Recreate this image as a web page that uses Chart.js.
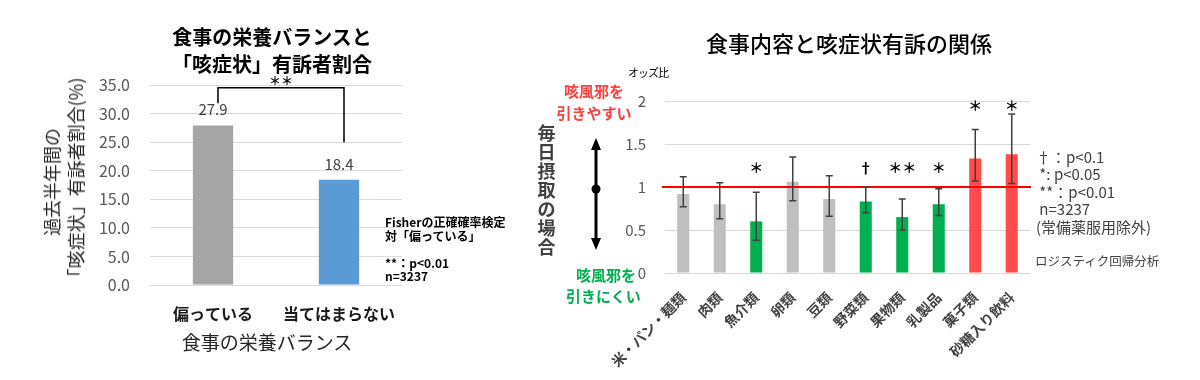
<!DOCTYPE html>
<html lang="ja">
<head>
<meta charset="utf-8">
<script src="https://cdn.jsdelivr.net/npm/chart.js@4"></script>
<style>
  body { margin: 0; background: #fff; font-family: "Noto Sans CJK JP", "Noto Sans", sans-serif; }
  #page { position: relative; width: 1200px; height: 380px; overflow: hidden; }
  .abs { position: absolute; white-space: nowrap; line-height: 1; }
  canvas { position: absolute; top: 0; }
</style>
</head>
<body>
<div id="page">
  <canvas id="balanceChart" width="420" height="380" style="left:0"></canvas>
  <canvas id="foodChart" width="680" height="380" style="left:520px"></canvas>

  <!-- 左グラフのテキスト -->
  <div class="abs" style="left:172px;top:23px;width:200px;text-align:center;font-size:20px;font-weight:bold;color:#000;line-height:27px">食事の栄養バランスと<br>「咳症状」有訴者割合</div>
  <div class="abs" style="left:63px;top:182px;transform:translate(-50%,-50%) rotate(-90deg);font-size:18px;color:#262626;text-align:center;line-height:24px">過去半年間の<br>「咳症状」有訴者割合(%)</div>
  <div class="abs" style="left:267px;top:332px;transform:translateX(-50%);font-size:19px;color:#262626">食事の栄養バランス</div>
  <div class="abs" style="left:385px;top:215px;font-size:12px;font-weight:bold;color:#000;line-height:13.5px">Fisherの正確確率検定<br>対「偏っている」<br><br>**：p&lt;0.01<br>n=3237</div>

  <!-- 右グラフのテキスト -->
  <div class="abs" style="left:849px;top:31px;transform:translateX(-50%);font-size:22px;font-weight:500;color:#000">食事内容と咳症状有訴の関係</div>
  <div class="abs" style="left:628px;top:67px;font-size:11px;color:#000;letter-spacing:-1px">オッズ比</div>
  <div class="abs" style="left:594px;top:80px;transform:translateX(-50%);font-size:15px;font-weight:bold;color:#ff4040;text-align:center;line-height:22px">咳風邪を<br>引きやすい</div>
  <div class="abs" style="left:566px;top:264px;width:70px;text-align:right;font-size:15px;font-weight:bold;color:#00b050;line-height:21px">咳風邪を<br>引きにくい</div>
  <div class="abs" style="left:537px;top:123px;width:19px;font-size:18px;font-weight:bold;color:#404040;line-height:19px;white-space:normal;text-align:center">毎日摂取の場合</div>
  <svg class="abs" style="left:580px;top:130px" width="32" height="130">
    <line x1="16" y1="16" x2="16" y2="112" stroke="#000" stroke-width="3"/>
    <polygon points="16,8 11,20 21,20" fill="#000"/>
    <polygon points="16,120 11,108 21,108" fill="#000"/>
    <circle cx="16" cy="59" r="4.5" fill="#000"/>
  </svg>
  <div class="abs" style="left:1036px;top:148px;font-size:15px;color:#404040;line-height:17.4px">†：p&lt;0.1<br>&nbsp;*: p&lt;0.05<br>&nbsp;**：p&lt;0.01<br>&nbsp;n=3237<br>(常備薬服用除外)</div>
  <div class="abs" style="left:1035px;top:255px;font-size:12.5px;color:#404040">ロジスティク回帰分析</div>
</div>

<script>
// 左：食事の栄養バランス別の有訴者割合
const balanceLabels = ['偏っている', '当てはまらない'];
const balanceRates = [27.9, 18.4];
const balanceColors = ['#a5a5a5', '#5b9bd5'];

// 右：食品群ごとのオッズ比と95%信頼区間
const foodLabels = ['米・パン・麺類', '肉類', '魚介類', '卵類', '豆類', '野菜類', '果物類', '乳製品', '菓子類', '砂糖入り飲料'];
const oddsRatios = [0.92, 0.80, 0.60, 1.06, 0.86, 0.83, 0.65, 0.80, 1.33, 1.38];
const ciLower = [0.77, 0.63, 0.38, 0.84, 0.66, 0.70, 0.50, 0.67, 1.07, 1.04];
const ciUpper = [1.12, 1.05, 0.94, 1.35, 1.13, 1.00, 0.86, 0.98, 1.67, 1.85];
const sigMarks = ['', '', '＊', '', '', '†', '＊＊', '＊', '＊', '＊'];

const jpFont = '"Noto Sans CJK JP", "Noto Sans", sans-serif';
Chart.defaults.font.family = jpFont;
Chart.defaults.animation = false;

// 棒の上の数値とブラケット
const balanceNotes = {
  id: 'balanceNotes',
  afterDatasetsDraw(chart) {
    const ctx = chart.ctx;
    const meta = chart.getDatasetMeta(0);
    const y = chart.scales.y;
    ctx.save();
    ctx.fillStyle = '#404040';
    ctx.font = '15px ' + jpFont;
    ctx.textAlign = 'center';
    ctx.textBaseline = 'middle';
    meta.data.forEach((bar, i) => {
      ctx.fillText(balanceRates[i].toFixed(1), bar.x, bar.y - 16);
    });
    // 有意差ブラケット
    const x1 = meta.data[0].x + 5, x2 = meta.data[1].x + 5;
    const top = y.getPixelForValue(34.5);
    ctx.strokeStyle = '#000';
    ctx.lineWidth = 1.5;
    ctx.beginPath();
    ctx.moveTo(x1, y.getPixelForValue(balanceRates[0] + 3.9));
    ctx.lineTo(x1, top);
    ctx.lineTo(x2, top);
    ctx.lineTo(x2, y.getPixelForValue(25));
    ctx.stroke();
    ctx.fillStyle = '#000';
    ctx.font = 'bold 12px ' + jpFont;
    ctx.fillText('＊＊', (x1 + x2) / 2, top - 6);
    ctx.restore();
  }
};

new Chart(document.getElementById('balanceChart'), {
  type: 'bar',
  data: {
    labels: balanceLabels,
    datasets: [{
      data: balanceRates,
      backgroundColor: balanceColors,
      barPercentage: 0.32,
      categoryPercentage: 1
    }]
  },
  options: {
    responsive: false,
    layout: { padding: { top: 85, right: 18, left: 0, bottom: 0 } },
    plugins: { legend: { display: false }, tooltip: { enabled: false } },
    scales: {
      x: {
        grid: { display: false },
        border: { display: false },
        ticks: { color: '#1a1a1a', font: { size: 16, weight: 'bold' }, padding: 11, maxRotation: 0 },
        afterFit(s) { s.height = 95; }
      },
      y: {
        min: 0, max: 35,
        grid: { color: '#d9d9d9', drawTicks: false },
        border: { display: false },
        ticks: { stepSize: 5, color: '#595959', font: { size: 16 }, padding: 20, callback: v => v.toFixed(1) },
        afterFit(s) { s.width = 150; }
      }
    }
  },
  plugins: [balanceNotes]
});

// 誤差範囲・基準線・有意記号
const oddsNotes = {
  id: 'oddsNotes',
  afterDatasetsDraw(chart) {
    const ctx = chart.ctx;
    const y = chart.scales.y;
    const area = chart.chartArea;
    const meta = chart.getDatasetMeta(0);
    ctx.save();
    // オッズ比=1の線
    ctx.strokeStyle = '#ff0000';
    ctx.lineWidth = 2;
    ctx.beginPath();
    ctx.moveTo(area.left - 3, y.getPixelForValue(1));
    ctx.lineTo(area.right + 1, y.getPixelForValue(1));
    ctx.stroke();
    // 信頼区間
    ctx.strokeStyle = '#404040';
    ctx.lineWidth = 1.5;
    meta.data.forEach((bar, i) => {
      const lo = y.getPixelForValue(ciLower[i]);
      const hi = y.getPixelForValue(ciUpper[i]);
      ctx.beginPath();
      ctx.moveTo(bar.x, lo); ctx.lineTo(bar.x, hi);
      ctx.moveTo(bar.x - 3.5, lo); ctx.lineTo(bar.x + 3.5, lo);
      ctx.moveTo(bar.x - 3.5, hi); ctx.lineTo(bar.x + 3.5, hi);
      ctx.stroke();
    });
    // 有意記号
    ctx.fillStyle = '#000';
    ctx.font = 'bold 14px ' + jpFont;
    ctx.textAlign = 'center';
    ctx.textBaseline = 'middle';
    meta.data.forEach((bar, i) => {
      if (!sigMarks[i]) return;
      const level = ciUpper[i] > 1.2 ? 1.94 : 1.22;
      ctx.fillText(sigMarks[i], bar.x, y.getPixelForValue(level));
    });
    ctx.restore();
  }
};

new Chart(document.getElementById('foodChart'), {
  type: 'bar',
  data: {
    labels: foodLabels,
    datasets: [{
      data: oddsRatios,
      backgroundColor: oddsRatios.map((v, i) => !sigMarks[i] ? '#bfbfbf' : (v < 1 ? '#00b050' : '#ff4b4b')),
      barPercentage: 0.33,
      categoryPercentage: 1
    }]
  },
  options: {
    responsive: false,
    layout: { padding: { top: 101, right: 170, left: 0, bottom: 0 } },
    plugins: { legend: { display: false }, tooltip: { enabled: false } },
    scales: {
      x: {
        grid: { display: false },
        border: { display: false },
        ticks: { color: '#404040', font: { size: 14, weight: 'bold' }, padding: 8, minRotation: 45, maxRotation: 45, autoSkip: false },
        afterFit(s) { s.height = 107; }
      },
      y: {
        min: 0, max: 2,
        grid: { color: '#d9d9d9', drawTicks: false },
        border: { display: false },
        ticks: { stepSize: 0.5, color: '#595959', font: { size: 15 }, padding: 19, callback: v => String(v) },
        afterFit(s) { s.width = 145; }
      }
    }
  },
  plugins: [oddsNotes]
});
</script>
</body>
</html>
